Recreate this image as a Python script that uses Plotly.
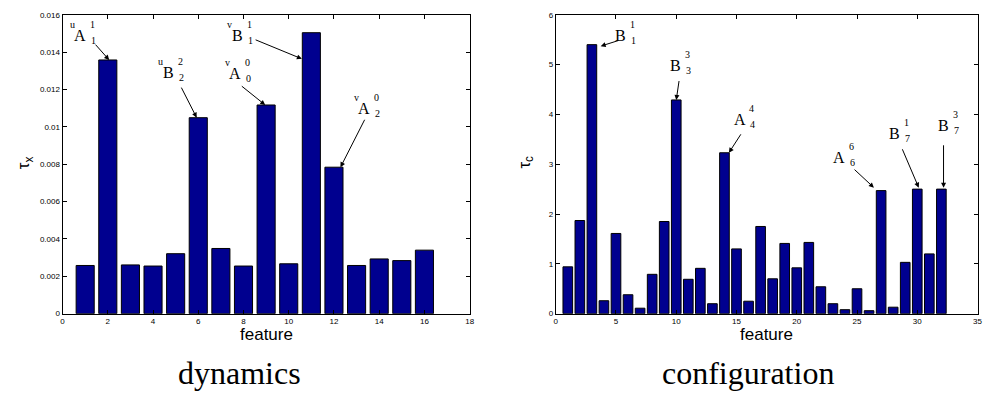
import plotly.graph_objects as go

# ---------------- data ----------------
dyn_features = list(range(1, 17))
dyn_values = [0.00258, 0.01358, 0.00261, 0.00255, 0.00321, 0.01049, 0.00349, 0.00255,
              0.01117, 0.00267, 0.01504, 0.00784, 0.00258, 0.00293, 0.00284, 0.00340]

conf_features = list(range(1, 33))
conf_values = [0.94, 1.87, 5.40, 0.26, 1.61, 0.38, 0.11, 0.79, 1.85, 4.29, 0.69, 0.91,
               0.20, 3.23, 1.30, 0.25, 1.75, 0.70, 1.41, 0.92, 1.43, 0.54, 0.20, 0.08,
               0.50, 0.06, 2.47, 0.13, 1.03, 2.50, 1.20, 2.50]

dyn_xticks = [0, 2, 4, 6, 8, 10, 12, 14, 16, 18]
dyn_yticks = [0, 0.002, 0.004, 0.006, 0.008, 0.010, 0.012, 0.014, 0.016]
dyn_yticklabels = ["0", "0.002", "0.004", "0.006", "0.008", "0.01", "0.012", "0.014", "0.016"]
conf_xticks = [0, 5, 10, 15, 20, 25, 30, 35]
conf_yticks = [0, 1, 2, 3, 4, 5, 6]

panel_titles = ["dynamics", "configuration"]
x_title = "feature"
y_titles = ["τ<sub>x</sub>", "τ<sub>c</sub>"]

# labels: (pre, main, sup, sub, label x, label y, bar feature, head dx, head dy, tail x, tail y)
dyn_labels = [
    ("u", "A", "1", "1", 0.79, 0.01490, 2, 0.06, 0.0, 1.40, 0.01448),
    ("u", "B", "2", "2", 4.70, 0.01292, 6, -0.07, 0.0, 5.22, 0.01218),
    ("v", "B", "1", "1", 7.73, 0.01490, 11, -0.42, -0.0014, 8.47, 0.01469),
    ("v", "A", "0", "0", 7.64, 0.01286, 9, -0.04, 0.0, 7.86, 0.01224),
    ("v", "A", "0", "2", 13.35, 0.01098, 12, 0.29, 0.0, 13.39, 0.01046),
]
conf_labels = [
    ("", "B", "1", "1", 5.37, 5.59, 3, 0.73, -0.03, 5.30, 5.49),
    ("", "B", "3", "3", 9.91, 4.98, 10, 0.0, 0.0, 10.25, 4.70),
    ("", "A", "4", "4", 15.28, 3.90, 14, 0.37, 0.0, 15.44, 3.63),
    ("", "A", "6", "6", 23.52, 3.14, 27, -0.6, 0.06, 24.67, 2.92),
    ("", "B", "1", "7", 28.14, 3.61, 30, 0.12, 0.03, 28.71, 3.33),
    ("", "B", "3", "7", 32.18, 3.78, 32, 0.18, 0.03, 32.18, 3.41),
]

BAR_COLOR = "rgb(0,0,143)"
SERIF = "Liberation Serif"
SANS = "Liberation Sans"

fig = go.Figure()
fig.add_trace(go.Bar(x=dyn_features, y=dyn_values, width=0.8, marker=dict(color=BAR_COLOR, line=dict(color="black", width=1)),
                     xaxis="x", yaxis="y", showlegend=False))
fig.add_trace(go.Bar(x=conf_features, y=conf_values, width=0.8, marker=dict(color=BAR_COLOR, line=dict(color="black", width=1)),
                     xaxis="x2", yaxis="y2", showlegend=False))

W, H = 986, 400
xd1 = [61 / W, 471 / W]
xd2 = [557.7 / W, 982.5 / W]
yd = [1 - 316.8 / H, 1 - 11 / H]

axis_common = dict(showline=True, linecolor="black", linewidth=1, mirror="allticks", ticks="inside",
                   ticklen=4, tickcolor="black", showgrid=False, zeroline=False,
                   tickfont=dict(family=SANS, size=8, color="black"))

fig.update_layout(
    width=W, height=H,
    margin=dict(l=0, r=0, t=0, b=0),
    paper_bgcolor="white", plot_bgcolor="white",
    xaxis=dict(domain=xd1, range=[0, 18], tickvals=dyn_xticks, anchor="y", **axis_common),
    yaxis=dict(domain=yd, range=[0, 0.016], tickvals=dyn_yticks, ticktext=dyn_yticklabels, anchor="x", **axis_common),
    xaxis2=dict(domain=xd2, range=[0, 35], tickvals=conf_xticks, anchor="y2", **axis_common),
    yaxis2=dict(domain=yd, range=[0, 6], tickvals=conf_yticks, anchor="x2", **axis_common),
)

ann = []


def add_labels(labels, values, xref, yref):
    for pre, main, sup, sub, lx, ly, feat, hdx, hdy, tx, ty in labels:
        hx = feat + hdx
        hy = values[feat - 1] + hdy
        ann.append(dict(x=hx, y=hy, ax=tx, ay=ty, xref=xref, yref=yref, axref=xref, ayref=yref,
                        text="", showarrow=True, arrowhead=2, arrowsize=1, arrowwidth=1,
                        arrowcolor="black", standoff=0))
        ann.append(dict(x=lx, y=ly, xref=xref, yref=yref, text=main, showarrow=False,
                        xanchor="center", yanchor="middle", font=dict(family=SERIF, size=16, color="black")))
        small = dict(family=SERIF, size=10, color="black")
        ann.append(dict(x=lx, y=ly, xref=xref, yref=yref, text=sup, showarrow=False, xshift=12, yshift=11,
                        xanchor="center", yanchor="middle", font=small))
        ann.append(dict(x=lx, y=ly, xref=xref, yref=yref, text=sub, showarrow=False, xshift=13, yshift=-5,
                        xanchor="center", yanchor="middle", font=small))
        if pre:
            ann.append(dict(x=lx, y=ly, xref=xref, yref=yref, text=pre, showarrow=False, xshift=-8, yshift=11,
                            xanchor="center", yanchor="middle", font=small))


add_labels(dyn_labels, dyn_values, "x", "y")
add_labels(conf_labels, conf_values, "x2", "y2")

# axis titles
ann.append(dict(x=266 / W, y=1 - 338 / H, xref="paper", yref="paper", text=x_title, showarrow=False,
                xanchor="center", yanchor="middle", font=dict(family=SANS, size=17, color="black")))
ann.append(dict(x=770 / W, y=1 - 338 / H, xref="paper", yref="paper", text=x_title, showarrow=False,
                xanchor="center", yanchor="middle", font=dict(family=SANS, size=17, color="black")))
ann.append(dict(x=24 / W, y=1 - 162 / H, xref="paper", yref="paper", text=y_titles[0], showarrow=False,
                textangle=-90, xanchor="center", yanchor="middle", font=dict(family=SANS, size=17, color="black")))
ann.append(dict(x=528 / W, y=1 - 162 / H, xref="paper", yref="paper", text=y_titles[1], showarrow=False,
                textangle=-90, xanchor="center", yanchor="middle", font=dict(family=SANS, size=17, color="black")))

# panel titles
ann.append(dict(x=239 / W, y=1 - 377 / H, xref="paper", yref="paper", text=panel_titles[0], showarrow=False,
                xanchor="center", yanchor="middle", font=dict(family=SERIF, size=32, color="black")))
ann.append(dict(x=751 / W, y=1 - 377 / H, xref="paper", yref="paper", text=panel_titles[1], showarrow=False,
                xanchor="center", yanchor="middle", font=dict(family=SERIF, size=32, color="black")))

fig.update_layout(annotations=ann)
fig.write_html("out.html", config={"displayModeBar": False},
               post_script="document.body.style.margin='0px';document.body.style.overflow='hidden';")
